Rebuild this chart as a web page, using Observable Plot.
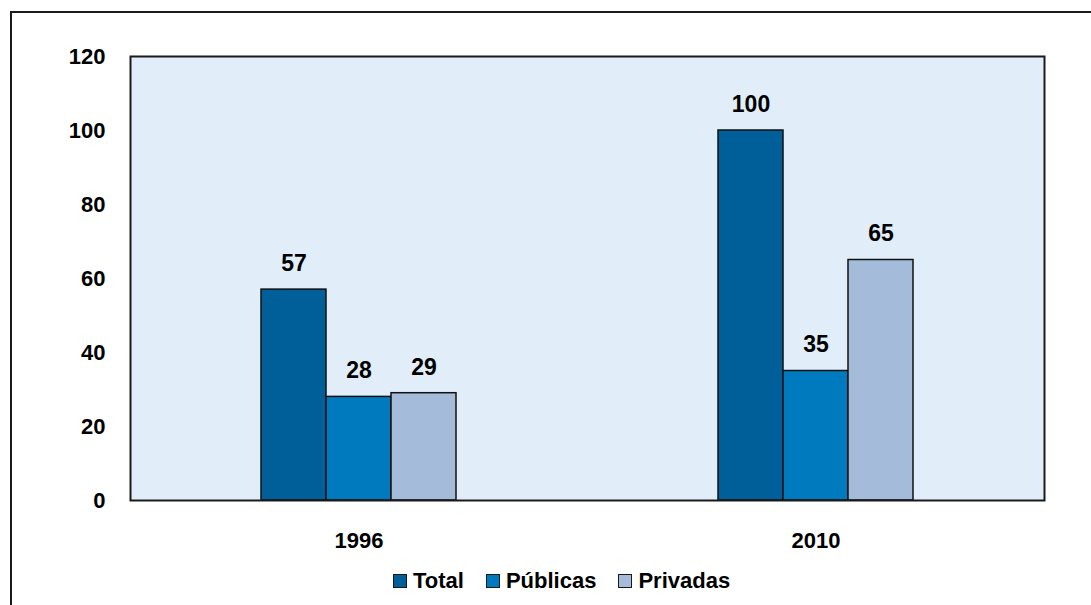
<!DOCTYPE html>
<html><head><meta charset="utf-8">
<script src="https://cdn.jsdelivr.net/npm/d3@7"></script>
<script src="https://cdn.jsdelivr.net/npm/@observablehq/plot@0.6"></script>
<style>
body{margin:0;background:#fff;font-family:"Liberation Sans",Arial,sans-serif;width:1091px;height:605px;overflow:hidden;position:relative}
#border{position:absolute;left:10px;top:11px;width:1200px;height:700px;border:2px solid #1a1a1a;box-sizing:border-box}
#chart{position:absolute;left:0;top:0}
#legend{position:absolute;left:393px;top:568px;display:flex;align-items:center;font-weight:bold;font-size:22px;color:#000}
#legend .item{display:flex;align-items:center;margin-right:22px}
#legend .sw{width:14px;height:14px;border:1.5px solid #1a1a1a;box-sizing:border-box;margin-right:6px}
</style></head>
<body>
<div id="border"></div>
<div id="chart"></div>
<div id="legend"></div>
<script>
const years = ["1996", "2010"];
const series = ["Total", "Públicas", "Privadas"];
const total = [57, 100];
const publicas = [28, 35];
const privadas = [29, 65];
const colors = ["#005F99", "#007ABF", "#A4BCDA"];
const yTicks = [0, 20, 40, 60, 80, 100, 120];

const valuesBySeries = [total, publicas, privadas];
const data = [];
years.forEach((yr, i) => series.forEach((s, j) => data.push({year: yr, series: s, value: valuesBySeries[j][i]})));

const chart = Plot.plot({
  width: 1091,
  height: 560,
  marginLeft: 129,
  marginRight: 47,
  marginTop: 56,
  marginBottom: 60,
  style: {fontFamily: "'Liberation Sans', Arial, sans-serif", fontWeight: "bold", fontSize: "22px", color: "#000", background: "transparent", overflow: "visible"},
  fx: {domain: years, padding: 0, axis: "bottom", label: null, tickSize: 0, tickPadding: 32},
  x: {domain: series, axis: null, paddingInner: 0, paddingOuter: 1.99},
  y: {domain: [0, 120], ticks: yTicks, tickSize: 0, tickPadding: 25, label: null},
  color: {domain: series, range: colors},
  marks: [
    Plot.frame({facet: "super", fill: "#E1EEF9", stroke: "none"}),
    Plot.barY(data, {fx: "year", x: "series", y: "value", fill: "series", stroke: "#111", strokeWidth: 1.5}),
    Plot.text(data, {fx: "year", x: "series", y: "value", text: d => String(d.value), dy: -26, fill: "#000", fontSize: 23, fontWeight: "bold"}),
    Plot.frame({facet: "super", fill: "none", stroke: "#1a1a1a", strokeWidth: 2})
  ]
});
document.getElementById("chart").appendChild(chart);

const legend = document.getElementById("legend");
series.forEach((s, j) => {
  const item = document.createElement("div");
  item.className = "item";
  const sw = document.createElement("div");
  sw.className = "sw";
  sw.style.background = colors[j];
  const t = document.createElement("span");
  t.textContent = s;
  item.appendChild(sw);
  item.appendChild(t);
  legend.appendChild(item);
});
</script>
</body></html>
